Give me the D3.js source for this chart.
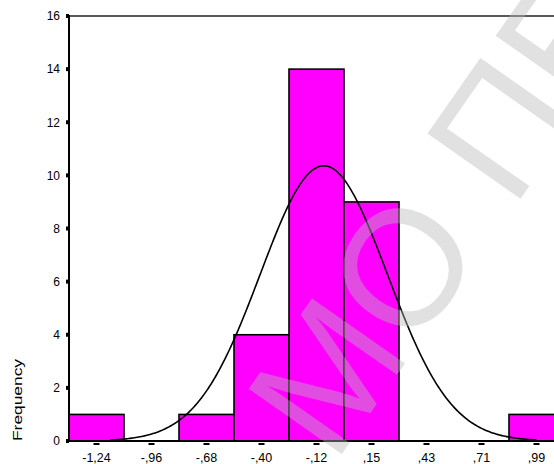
<!DOCTYPE html>
<html>
<head>
<meta charset="utf-8">
<script src="https://cdn.jsdelivr.net/npm/d3@7"></script>
<style>
  html, body { margin: 0; padding: 0; background: #fff; }
  svg { display: block; }
  text { font-family: "Liberation Sans", Arial, sans-serif; }
</style>
</head>
<body>
<svg id="chart" width="554" height="464"></svg>
<script>
// Histogram bins (centres) and their frequencies
const binCenters = [-1.24, -0.96125, -0.6825, -0.40375, -0.125, 0.15375, 0.4325, 0.71125, 0.99];
const binLabels = ["-1,24", "-,96", "-,68", "-,40", "-,12", ",15", ",43", ",71", ",99"];
const frequencies = [1, 0, 1, 4, 14, 9, 0, 0, 1];
const binWidth = 0.27875;

// Y axis ticks
const yTicks = [0, 2, 4, 6, 8, 10, 12, 14, 16];

// Fitted normal curve parameters
const curveMean = -0.088;
const curveSd = 0.322;
const curveRange = [-1.17, 0.99];
const sampleSize = 30;

const svg = d3.select("#chart");

const plotLeft = 69, plotTop = 16, plotBottom = 441;
const x = d3.scaleLinear()
  .domain([binCenters[0] - binWidth / 2, binCenters[0] + binWidth * 8.5])
  .range([plotLeft, plotLeft + 55 * 9]);
const y = d3.scaleLinear().domain([0, 16]).range([plotBottom, plotTop]);

// Bars
svg.append("g").selectAll("rect")
  .data(frequencies.map((f, i) => ({ c: binCenters[i], f })).filter(d => d.f > 0))
  .join("rect")
  .attr("x", d => x(d.c - binWidth / 2))
  .attr("width", d => x(d.c + binWidth / 2) - x(d.c - binWidth / 2))
  .attr("y", d => y(d.f))
  .attr("height", d => y(0) - y(d.f))
  .attr("fill", "#ff00ff")
  .attr("stroke", "#000")
  .attr("stroke-width", 1.6);

// Normal curve scaled to counts
const pdf = v => Math.exp(-0.5 * ((v - curveMean) / curveSd) ** 2) / (curveSd * Math.sqrt(2 * Math.PI));
const curvePts = d3.range(0, 301).map(i => {
  const v = curveRange[0] + (curveRange[1] - curveRange[0]) * i / 300;
  return [v, sampleSize * binWidth * pdf(v)];
});
svg.append("path")
  .datum(curvePts)
  .attr("fill", "none")
  .attr("stroke", "#000")
  .attr("stroke-width", 1.6)
  .attr("d", d3.line().x(d => x(d[0])).y(d => y(d[1])));

// Frame lines: top, left, bottom
svg.append("line").attr("x1", plotLeft).attr("x2", 600).attr("y1", plotTop).attr("y2", plotTop)
  .attr("stroke", "#222").attr("stroke-width", 1.5);
svg.append("line").attr("x1", plotLeft).attr("x2", plotLeft).attr("y1", plotTop - 1).attr("y2", plotBottom + 1)
  .attr("stroke", "#000").attr("stroke-width", 2);
svg.append("line").attr("x1", plotLeft).attr("x2", 600).attr("y1", plotBottom).attr("y2", plotBottom)
  .attr("stroke", "#000").attr("stroke-width", 2);

// Y ticks and labels
const yg = svg.append("g");
yg.selectAll("rect").data(yTicks).join("rect")
  .attr("x", plotLeft - 3).attr("width", 3)
  .attr("y", d => y(d) - 2).attr("height", 4)
  .attr("fill", "#000");
yg.selectAll("text").data(yTicks).join("text")
  .attr("x", 60).attr("y", d => y(d))
  .attr("dy", "0.36em")
  .attr("text-anchor", "end")
  .attr("font-size", 12)
  .attr("fill", "#000")
  .text(d => d);

// X ticks and labels
const xg = svg.append("g");
xg.selectAll("rect").data(binCenters).join("rect")
  .attr("x", d => x(d) - 3).attr("width", 6)
  .attr("y", plotBottom + 2).attr("height", 2)
  .attr("fill", "#000");
xg.selectAll("text").data(binCenters).join("text")
  .attr("x", d => x(d)).attr("y", 461.5)
  .attr("text-anchor", "middle")
  .attr("font-size", 12.5)
  .attr("fill", "#000")
  .text((d, i) => binLabels[i]);

// Y axis title
svg.append("text")
  .attr("transform", "translate(22,400) rotate(-90)")
  .attr("text-anchor", "middle")
  .attr("font-size", 13)
  .attr("textLength", 82)
  .attr("lengthAdjust", "spacingAndGlyphs")
  .attr("fill", "#000")
  .text("Frequency");

// Watermark
svg.append("text")
  .attr("transform", "translate(334,465) rotate(-55)")
  .attr("font-size", 165)
  .attr("fill", "#b8b8b8")
  .attr("opacity", 0.42)
  .text("ΜΟ ΠΕ");
</script>
</body>
</html>
